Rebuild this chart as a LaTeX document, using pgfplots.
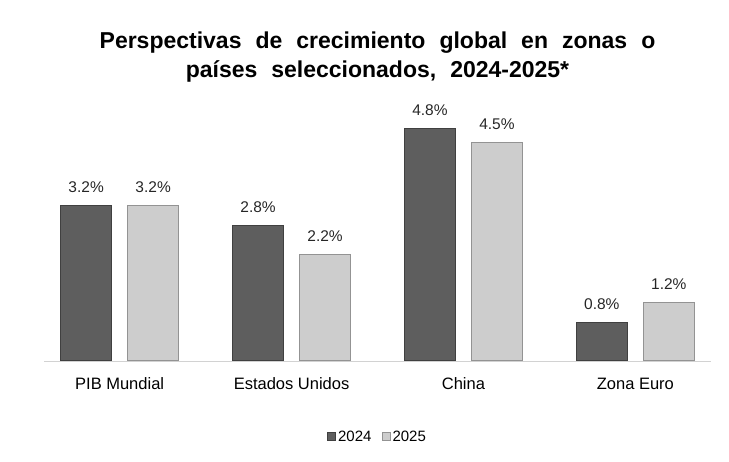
\documentclass[border=0pt]{standalone}
\usepackage{fontspec}
\setmainfont{Liberation Sans}
\usepackage{pgfplots}
\pgfplotsset{compat=1.18}

\definecolor{bardark}{HTML}{5E5E5E}
\definecolor{barlight}{HTML}{CDCDCD}
\newcommand{\titlefont}{\bfseries\fontsize{23}{28.5}\selectfont\spaceskip=14pt plus 2pt\relax}

\begin{document}
\begin{tikzpicture}
\useasboundingbox (0,0) rectangle (729pt,461pt);
\begin{axis}[
    at={(44pt,100pt)},
    anchor=south west,
    scale only axis,
    width=667pt,
    height=242.5pt,
    ybar=16pt,
    bar width=51pt,
    xmin=-0.44, xmax=3.44,
    ymin=0, ymax=5,
    /pgf/number format/assume math mode=true,
    axis x line*=bottom,
    axis y line=none,
    x axis line style={draw=gray!35, line width=0.8pt},
    xtick=data,
    xticklabels={PIB Mundial,Estados Unidos,China,Zona Euro},
    major tick length=0pt,
    xticklabel style={font=\fontsize{16.5}{19}\selectfont, text height=12pt, text depth=3pt, anchor=north, yshift=-13pt},
    nodes near coords={\pgfmathprintnumber[fixed,precision=1,fixed zerofill]{\pgfplotspointmeta}\%},
    every node near coord/.append style={font=\fontsize{15.5}{18}\selectfont, yshift=9pt, text=black!85},
    title={Perspectivas de crecimiento global en zonas o\\pa\'ises seleccionados, 2024-2025*},
    title style={font=\titlefont, align=center, at={(0.5,1)}, anchor=south, yshift=27pt},
    legend columns=2,
    legend style={draw=none, at={(0.5,-0.313)}, anchor=center,
        font=\fontsize{15}{18}\selectfont,
        /tikz/every even column/.append style={column sep=8pt}},
    legend image code/.code={\fill[#1] (0pt,-4pt) rectangle (8pt,4pt);},
]
\addplot[fill=bardark, draw=black!75, line width=1pt] coordinates {(0,3.2) (1,2.8) (2,4.8) (3,0.8)};
\addplot[fill=barlight, draw=gray!85, line width=1pt] coordinates {(0,3.2) (1,2.2) (2,4.5) (3,1.2)};
\legend{2024,2025}
\end{axis}
\end{tikzpicture}
\end{document}
